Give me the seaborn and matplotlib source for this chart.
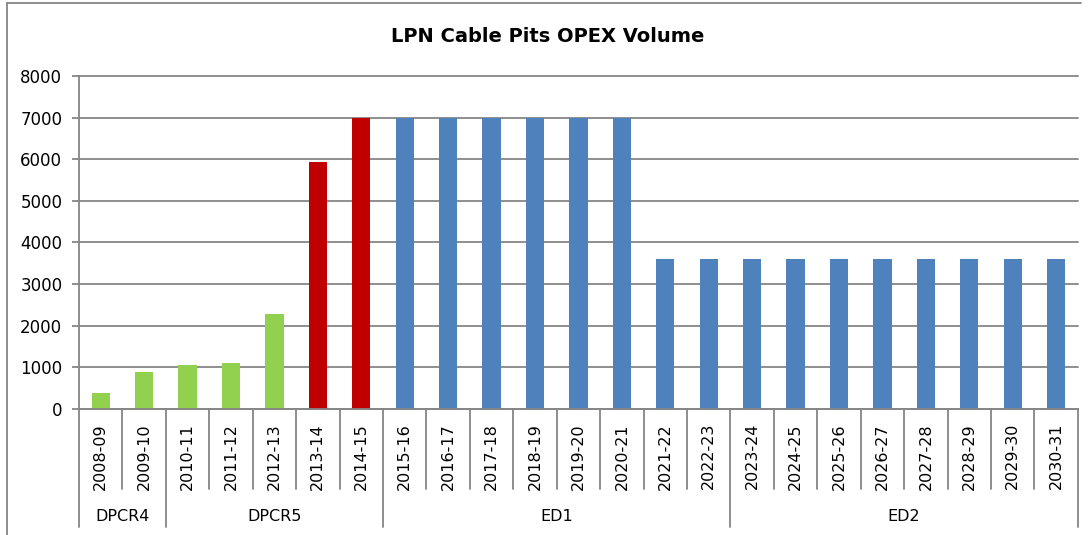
import numpy as np
import pandas as pd
import matplotlib
matplotlib.use("Agg")
import matplotlib.pyplot as plt
import seaborn as sns

# data
years = ["2008-09", "2009-10", "2010-11", "2011-12", "2012-13", "2013-14", "2014-15",
         "2015-16", "2016-17", "2017-18", "2018-19", "2019-20", "2020-21", "2021-22",
         "2022-23", "2023-24", "2024-25", "2025-26", "2026-27", "2027-28", "2028-29",
         "2029-30", "2030-31"]
volume = [377, 882, 1050, 1099, 2277, 5932, 7000,
          7000, 7000, 7000, 7000, 7000, 7000, 3600,
          3600, 3600, 3600, 3600, 3600, 3600, 3600,
          3600, 3600]
status = ["actual"] * 5 + ["current"] * 2 + ["plan"] * 16
periods = ["DPCR4", "DPCR5", "ED1", "ED2"]
period_len = [2, 5, 8, 8]

colours = {"actual": "#92D050", "current": "#C00000", "plan": "#4F81BD"}

df = pd.DataFrame({"Year": years, "Volume": volume, "Status": status})

sns.set_theme(style="white")
plt.rcParams["font.family"] = ["DejaVu Sans"]
plt.rcParams["text.color"] = "black"

fig = plt.figure(figsize=(10.91, 5.35), dpi=100)
ax = fig.add_axes([0.0724, 0.236, 0.9156, 0.622])

sns.barplot(data=df, x="Year", y="Volume", hue="Status", palette=colours,
            dodge=False, width=0.42, legend=False, ax=ax, saturation=1,
            linewidth=0, edgecolor="none")

grid_col = "#868686"
ax.set_ylim(0, 8000)
ax.set_xlim(-0.5, len(years) - 0.5)
ax.set_yticks(np.arange(0, 8001, 1000))
ax.yaxis.grid(True, color=grid_col, linewidth=1.3)
for gl in ax.get_ygridlines():
    gl.set_clip_on(False)
ax.set_axisbelow(True)
ax.set_xlabel("")
ax.set_ylabel("")
for side in ["top", "right"]:
    ax.spines[side].set_visible(False)
for side in ["left", "bottom"]:
    ax.spines[side].set_color(grid_col)
    ax.spines[side].set_linewidth(1.3)
ax.tick_params(axis="y", which="major", left=True, length=5, width=1.3,
               color=grid_col, labelsize=12, pad=7, labelcolor="black")
ax.set_xticks(range(len(years)))
ax.set_xticklabels([])
ax.tick_params(axis="x", bottom=False)

# category labels and separators below the axis
trans = ax.get_xaxis_transform()
for i, yr in enumerate(years):
    ax.text(i, -0.043, yr, rotation=90, ha="center", va="top", fontsize=11.5,
            color="black", transform=trans, clip_on=False)

bounds = np.cumsum([0] + period_len)
for i in range(len(years) + 1):
    low = -0.355 if i in bounds else -0.241
    ax.plot([i - 0.5, i - 0.5], [0, low], color=grid_col, linewidth=1.3,
            transform=trans, clip_on=False)

for name, start, n in zip(periods, bounds[:-1], period_len):
    ax.text(start - 0.5 + n / 2, -0.325, name, ha="center", va="center",
            fontsize=11.5, color="black", transform=trans, clip_on=False)

fig.text(0.502, 0.931, "LPN Cable Pits OPEX Volume", ha="center", va="center",
         fontsize=14, fontweight="bold", color="black")

# chart frame (top and left edges visible in the reference)
fig.add_artist(plt.Line2D([0.0064, 0.0064], [0, 0.994], color=grid_col, linewidth=1.3))
fig.add_artist(plt.Line2D([0.0064, 0.991], [0.994, 0.994], color=grid_col, linewidth=1.3))

fig.savefig("out.png", dpi=100)
